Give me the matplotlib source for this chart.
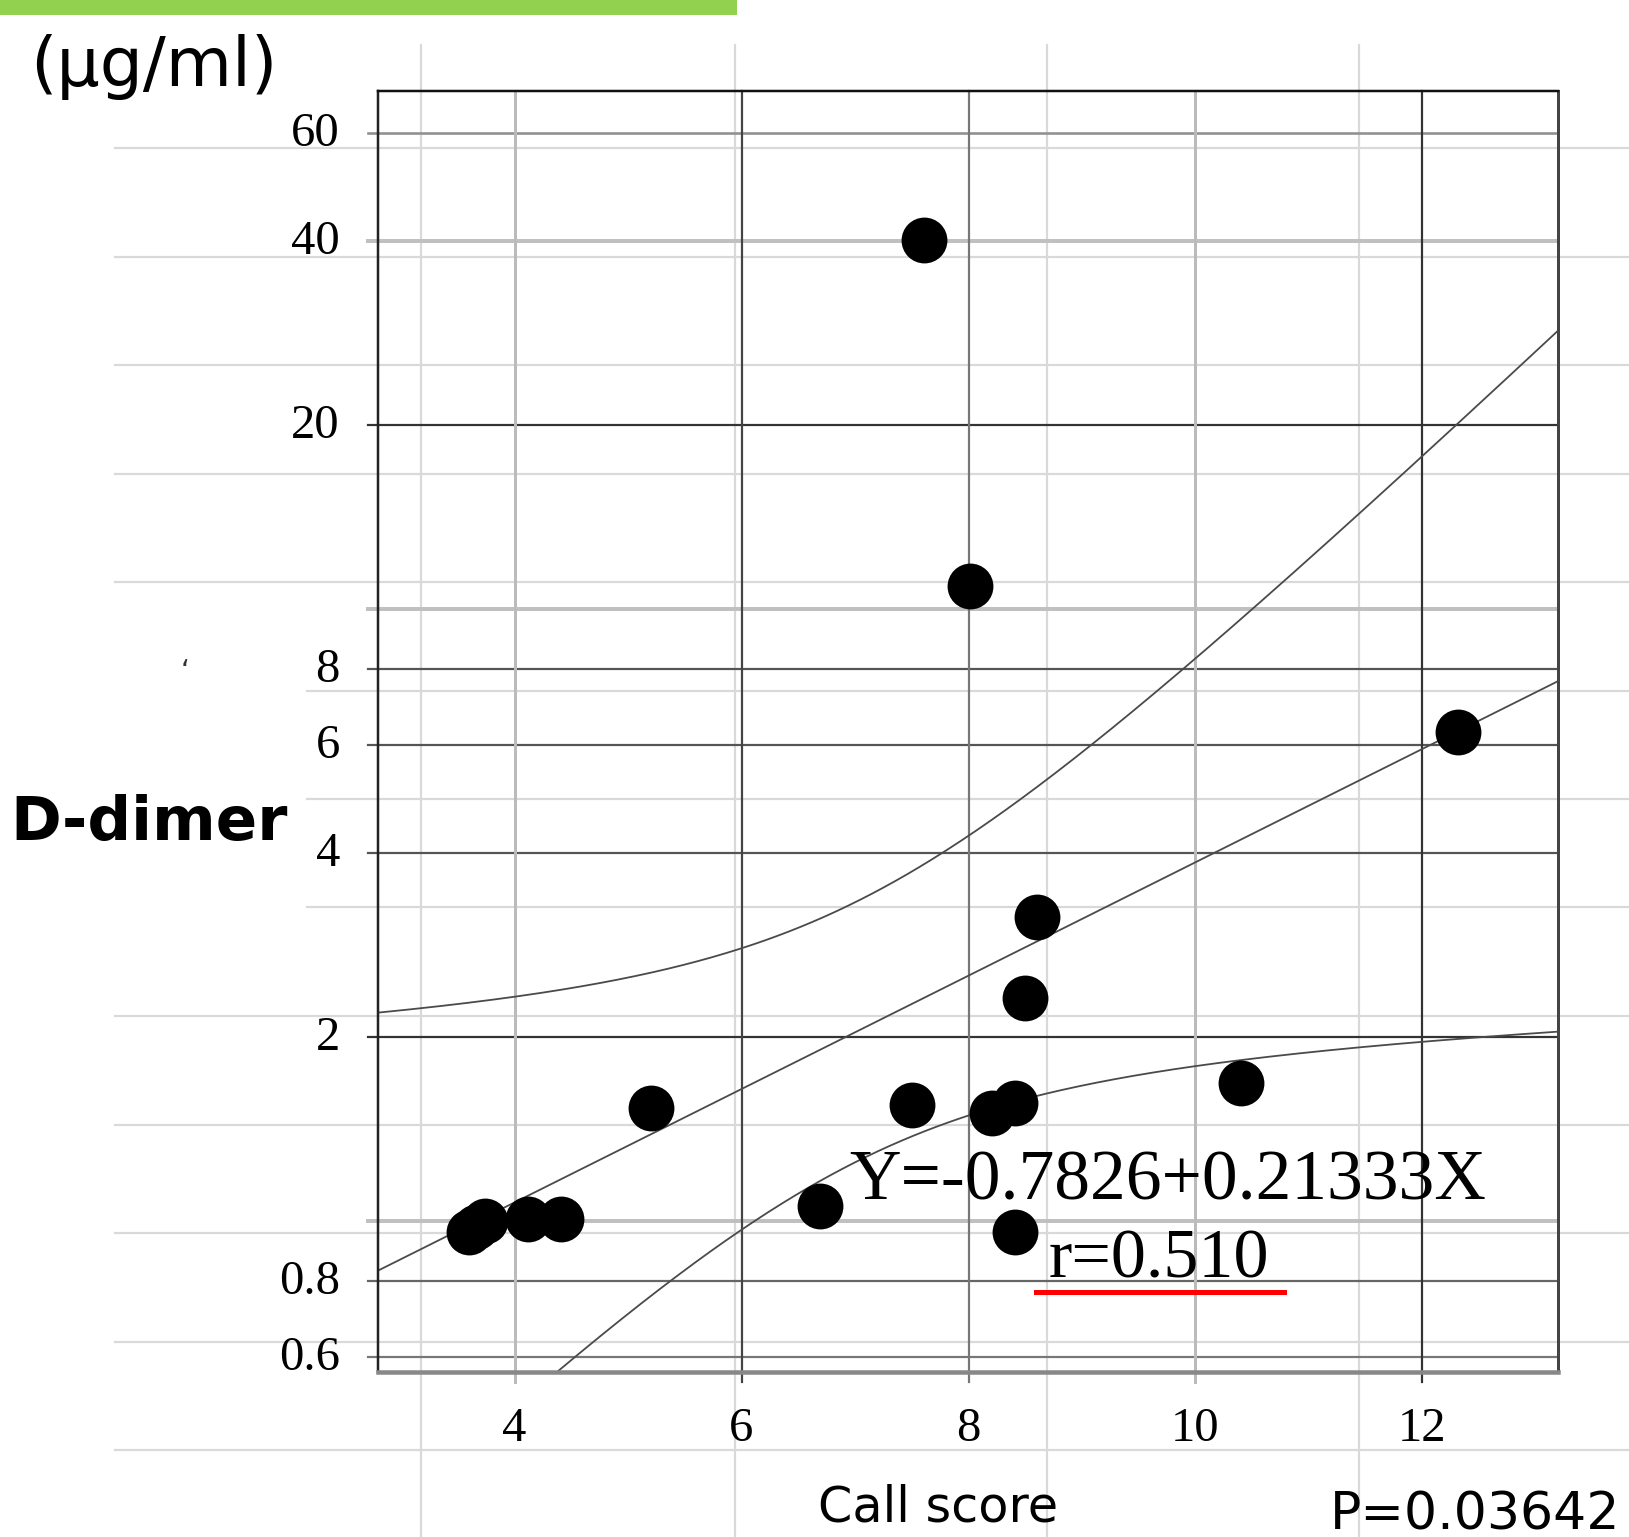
import numpy as np
import matplotlib
matplotlib.use("Agg")
import matplotlib.pyplot as plt
import matplotlib.transforms as mtransforms
from matplotlib.ticker import FixedLocator, FixedFormatter, NullLocator
from matplotlib.lines import Line2D
from matplotlib.patches import Rectangle

# valeurs : Call score (x) vs D-dimer en ug/ml (y)
call_score = [3.60, 3.66, 3.74, 4.12, 4.41, 5.20, 6.69, 7.50, 7.61, 8.01,
              8.21, 8.41, 8.41, 8.50, 8.60, 10.40, 12.31]
d_dimer = [0.96, 0.98, 1.00, 1.01, 1.01, 1.53, 1.06, 1.55, 40.2, 10.9,
           1.50, 1.56, 0.96, 2.32, 3.14, 1.68, 6.31]

# droite de regression affichee (ln Y = a + b X)
INTERCEPT = -0.7826
SLOPE = 0.21333
T_CRIT = 2.131  # t(0.975, ddl=15)

y_ticks = [60, 40, 20, 8, 6, 4, 2, 0.8, 0.6]
y_ticklabels = ["60", "40", "20", "8", "6", "4", "2", "0.8", "0.6"]
x_ticks = [4, 6, 8, 10, 12]
x_ticklabels = ["4", "6", "8", "10", "12"]

eq_text = "Y=-0.7826+0.21333X"
r_text = "r=0.510"
p_text = "P=0.03642"

W, H = 1629, 1537
plt.rcParams['font.family'] = ['Liberation Serif', 'DejaVu Sans']


def fx(px):
    return px / W


def fy(py):
    return 1 - py / H


def lw(px):
    return px * 0.72


fig = plt.figure(figsize=(W / 100, H / 100), dpi=100)

# grille de fond de la diapo
bg = '#d9d9d9'
for yy in [148, 256.5, 365, 473.5, 582, 690.5, 799, 907.5, 1016, 1124.5,
           1233, 1341.5, 1450]:
    x0 = 307 if yy in (690.5, 799, 907.5) else 115
    fig.add_artist(Line2D([fx(x0), 1], [fy(yy), fy(yy)], transform=fig.transFigure,
                          color=bg, lw=lw(2.2), zorder=-1))
for xx in [421, 734.5, 1047, 1359]:
    fig.add_artist(Line2D([fx(xx), fx(xx)], [fy(45), 0], transform=fig.transFigure,
                          color=bg, lw=lw(2.2), zorder=-1))

# bandeau vert en haut
fig.add_artist(Rectangle((0, fy(15)), fx(737), 15 / H, transform=fig.transFigure,
                         color='#92D050', lw=0, zorder=-1))

ax = fig.add_axes([fx(378), fy(1372), (1558 - 378) / W, (1372 - 91) / H])
ax.patch.set_visible(False)
ax.set_yscale('log')
ax.set_xlim(2.797, 13.194)
ax.set_ylim(0.567, 70.3)

# grilles (couleur, epaisseur en px) - elles depassent un peu comme des graduations
hgrid = {60: ('#909090', 2.6), 40: ('#c0c0c0', 4), 20: ('#333333', 2.2),
         10: ('#c0c0c0', 4), 8: ('#555555', 2.2), 6: ('#555555', 2.2),
         4: ('#555555', 2.2), 2: ('#333333', 2.2), 1: ('#c0c0c0', 4),
         0.8: ('#666666', 2.2), 0.6: ('#777777', 2.2)}
for val, (c, w) in hgrid.items():
    ax.axhline(val, xmin=-10 / 1180, xmax=1, color=c, lw=lw(w), clip_on=False, zorder=1)
vgrid = {4: ('#bbbbbb', 3), 6: ('#444444', 2.2), 8: ('#777777', 2.2),
         10: ('#bbbbbb', 3), 12: ('#333333', 2.2)}
for val, (c, w) in vgrid.items():
    ax.axvline(val, ymin=-10 / 1281, ymax=1, color=c, lw=lw(w), clip_on=False, zorder=1)

# droite de regression + intervalle de confiance a 95 %
x = np.array(call_score)
lny = np.log(np.array(d_dimer))
n = len(x)
xbar = x.mean()
sxx = ((x - xbar) ** 2).sum()
resid = lny - (INTERCEPT + SLOPE * x)
s = np.sqrt((resid ** 2).sum() / (n - 2))
xs = np.linspace(2.797, 13.194, 400)
fit = INTERCEPT + SLOPE * xs
half = T_CRIT * s * np.sqrt(1 / n + (xs - xbar) ** 2 / sxx)
for curve in (fit, fit + half, fit - half):
    ax.plot(xs, np.exp(curve), color='#4a4a4a', lw=lw(1.8), zorder=2)

ax.plot(call_score, d_dimer, 'o', color='black', ms=33, mew=0, zorder=3)

ax.yaxis.set_major_locator(FixedLocator(y_ticks))
ax.yaxis.set_major_formatter(FixedFormatter(y_ticklabels))
ax.yaxis.set_minor_locator(NullLocator())
ax.xaxis.set_major_locator(FixedLocator(x_ticks))
ax.xaxis.set_major_formatter(FixedFormatter(x_ticklabels))
ax.tick_params(axis='y', length=0, pad=27.4, labelsize=35)
ax.tick_params(axis='x', length=0, pad=25, labelsize=35)
# les etiquettes y sont un peu au-dessus de leur ligne dans l'original
up = mtransforms.ScaledTranslation(0, 4 / 100, fig.dpi_scale_trans)
for tick in ax.yaxis.get_major_ticks(len(y_ticks)):
    tick.label1.set_transform(tick.label1.get_transform() + up)

ax.spines['top'].set_color('#111111')
ax.spines['top'].set_linewidth(lw(2.5))
ax.spines['left'].set_color('#222222')
ax.spines['left'].set_linewidth(lw(2.5))
ax.spines['right'].set_color('#444444')
ax.spines['right'].set_linewidth(lw(3))
ax.spines['bottom'].set_color('#888888')
ax.spines['bottom'].set_linewidth(lw(4.5))

# textes
fig.text(fx(30), fy(86), "(μg/ml)", family='DejaVu Sans', fontsize=49,
         ha='left', va='baseline')
fig.text(fx(10), fy(840), "D-dimer", family='DejaVu Sans', fontweight='bold',
         fontsize=44, ha='left', va='baseline')
fig.text(fx(185), fy(680), "‘", family='DejaVu Sans', fontsize=20, color='#333333',
         ha='center', va='baseline')
fig.text(fx(818), fy(1521), "Call score", family='DejaVu Sans', fontsize=35.5,
         ha='left', va='baseline')
fig.text(fx(1330), fy(1529), p_text, family='DejaVu Sans', fontsize=37.5,
         ha='left', va='baseline')
fig.text(fx(849), fy(1200), eq_text, family='Liberation Serif', fontsize=51.5,
         ha='left', va='baseline')
fig.text(fx(1049), fy(1278), r_text, family='Liberation Serif', fontsize=50.5,
         ha='left', va='baseline')
fig.add_artist(Line2D([fx(1036), fx(1284)], [fy(1291.5), fy(1291.5)],
                      transform=fig.transFigure, color='#ff0000', lw=lw(5)))

fig.savefig("out.png", dpi=100)
